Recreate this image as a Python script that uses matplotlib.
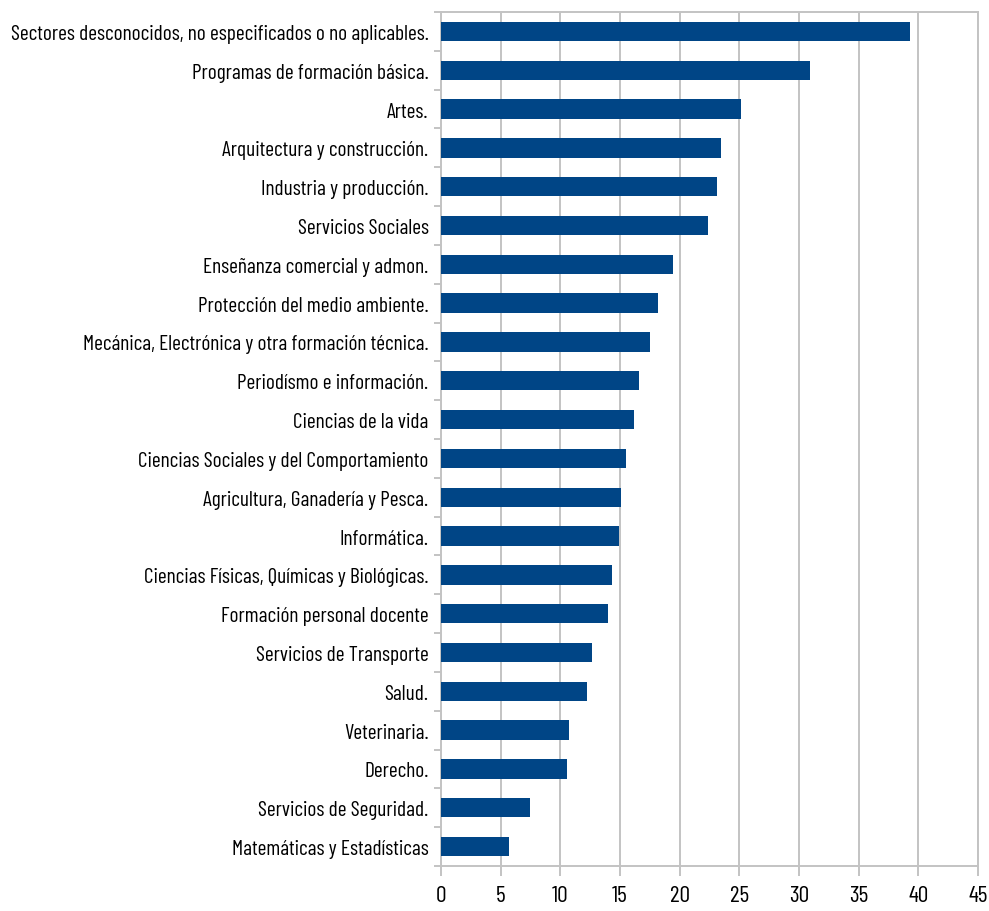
import numpy as np
import matplotlib
matplotlib.use('Agg')
import matplotlib.pyplot as plt

# Categories, top to bottom as in the chart
sectores = [
    "Sectores desconocidos, no especificados o no aplicables.",
    "Programas de formación básica.",
    "Artes.",
    "Arquitectura y construcción.",
    "Industria y producción.",
    "Servicios Sociales",
    "Enseñanza comercial y admon.",
    "Protección del medio ambiente.",
    "Mecánica, Electrónica y otra formación técnica.",
    "Periodísmo e información.",
    "Ciencias de la vida",
    "Ciencias Sociales y del Comportamiento",
    "Agricultura, Ganadería y Pesca.",
    "Informática.",
    "Ciencias Físicas, Químicas y Biológicas.",
    "Formación personal docente",
    "Servicios de Transporte",
    "Salud.",
    "Veterinaria.",
    "Derecho.",
    "Servicios de Seguridad.",
    "Matemáticas y Estadísticas",
]
valores = [39.3, 30.9, 25.1, 23.5, 23.1, 22.35, 19.45, 18.2, 17.5, 16.6, 16.2,
           15.5, 15.1, 14.9, 14.3, 14.0, 12.65, 12.2, 10.7, 10.6, 7.45, 5.7]
xticks = [0, 5, 10, 15, 20, 25, 30, 35, 40, 45]

# narrow face, close to the Arial Narrow look of the original
plt.rcParams['font.family'] = ['Barlow Condensed', 'DejaVu Sans']

gris = '#c3c3c3'
fig = plt.figure(figsize=(9.89, 9.12), dpi=100)
ax = fig.add_axes([441/989, 1 - 867/912, (978 - 441)/989, (867 - 13)/912])

pos = np.arange(len(sectores))
ax.barh(pos, valores, height=0.5, color='#004586', zorder=3)

ax.set_xlim(0, 45)
ax.set_ylim(len(sectores) - 0.5, -0.5)
ax.set_xticks(xticks)
ax.set_xticklabels([str(t) for t in xticks], fontsize=17)
ax.set_yticks(pos)
ax.set_yticklabels(sectores, fontsize=15.4)
ax.set_yticks(np.arange(len(sectores) + 1) - 0.5, minor=True)

ax.grid(axis='x', color=gris, linewidth=1.4, zorder=0)
for s in ax.spines.values():
    s.set_color(gris)
    s.set_linewidth(1.4)

ax.tick_params(axis='y', which='major', length=0, pad=9)
ax.tick_params(axis='y', which='minor', length=5, width=1.4, color=gris)
ax.tick_params(axis='x', length=7, width=1.4, color=gris, pad=7)

fig.savefig('out.png', dpi=100)
